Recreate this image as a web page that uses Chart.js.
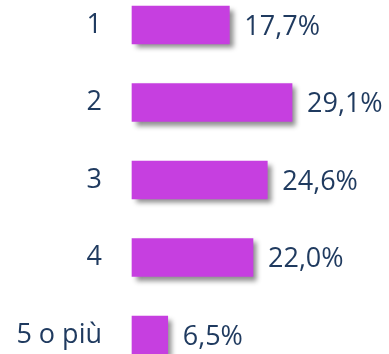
<!DOCTYPE html>
<html>
<head>
<meta charset="utf-8">
<script src="https://cdn.jsdelivr.net/npm/chart.js@4"></script>
<style>
  html, body { margin: 0; padding: 0; background: #fff; }
  #wrap { width: 389px; height: 354px; }
</style>
</head>
<body>
<div id="wrap"><canvas id="figliChart"></canvas></div>
<script>
const categories = ["1", "2", "3", "4", "5 o più"];
const shares = [17.7, 29.1, 24.6, 22.0, 6.5];

const barColor = "#c63fe0";
const textColor = "#1f3a5f";
const fontFamily = "'Open Sans', sans-serif";

// soft drop shadow under the bars only
const barShadow = {
    id: "barShadow",
    beforeDatasetsDraw(chart) {
        const c = chart.ctx;
        c.save();
        c.shadowColor = "rgba(0,0,0,0.45)";
        c.shadowBlur = 5;
        c.shadowOffsetX = 4;
        c.shadowOffsetY = 4;
    },
    afterDatasetsDraw(chart) {
        chart.ctx.restore();
    }
};

// percentage written just right of each bar
const valueLabels = {
    id: "valueLabels",
    afterDraw(chart) {
        const c = chart.ctx;
        const meta = chart.getDatasetMeta(0);
        c.save();
        c.fillStyle = textColor;
        c.font = "27px " + fontFamily;
        c.textAlign = "left";
        c.textBaseline = "middle";
        meta.data.forEach((bar, i) => {
            const txt = shares[i].toFixed(1).replace(".", ",") + "%";
            c.fillText(txt, bar.x + 15, bar.y + 2);
        });
        c.restore();
    }
};

const ctx = document.getElementById("figliChart");

new Chart(ctx, {
    type: "bar",
    data: {
        labels: categories,
        datasets: [{
            data: shares,
            backgroundColor: barColor,
            borderWidth: 0,
            barThickness: 38,
            clip: false
        }]
    },
    options: {
        indexAxis: "y",
        responsive: true,
        maintainAspectRatio: false,
        animation: false,
        layout: {
            padding: { top: 25, bottom: 19, left: 0, right: 37 }
        },
        plugins: {
            legend: { display: false },
            tooltip: { enabled: false }
        },
        scales: {
            x: {
                display: false,
                min: 0,
                max: 40
            },
            y: {
                offset: false,
                grid: { display: false, drawTicks: false },
                border: { display: false },
                ticks: {
                    color: textColor,
                    padding: 30,
                    font: { family: fontFamily, size: 27 }
                },
                afterFit(scale) {
                    scale.width = 132;
                    scale.paddingTop = 0;
                    scale.paddingBottom = 0;
                }
            }
        }
    },
    plugins: [barShadow, valueLabels]
});
</script>
</body>
</html>
